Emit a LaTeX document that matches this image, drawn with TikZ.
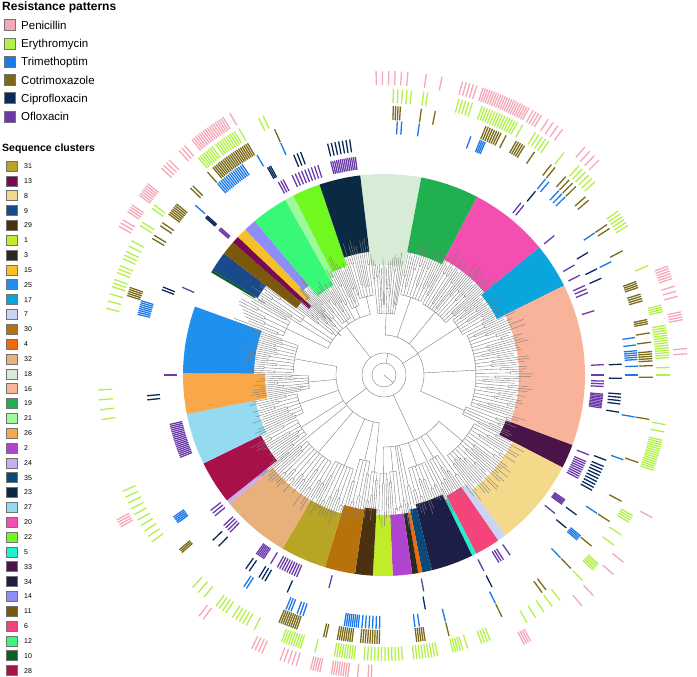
\documentclass[tikz,border=0pt]{standalone}
\usepackage{fontspec}
\setmainfont{Liberation Sans}
\definecolor{k31}{HTML}{B8A526}
\definecolor{k13}{HTML}{7A0A50}
\definecolor{k8}{HTML}{F5D98B}
\definecolor{k9}{HTML}{1A4A8A}
\definecolor{k29}{HTML}{4A3210}
\definecolor{k1}{HTML}{C0EC2A}
\definecolor{k3}{HTML}{2A2A22}
\definecolor{k15}{HTML}{F5C02A}
\definecolor{k25}{HTML}{2090EE}
\definecolor{k17}{HTML}{0AA5DC}
\definecolor{k7}{HTML}{CCD4F5}
\definecolor{k30}{HTML}{B8720A}
\definecolor{k4}{HTML}{F06A0A}
\definecolor{k32}{HTML}{E8B07A}
\definecolor{k18}{HTML}{D6ECD6}
\definecolor{k16}{HTML}{F8B39A}
\definecolor{k19}{HTML}{20B050}
\definecolor{k21}{HTML}{9CFA9C}
\definecolor{k26}{HTML}{F8A848}
\definecolor{k2}{HTML}{B044D0}
\definecolor{k24}{HTML}{C8AEF0}
\definecolor{k35}{HTML}{0A4A78}
\definecolor{k23}{HTML}{0A2A44}
\definecolor{k27}{HTML}{94DAF0}
\definecolor{k20}{HTML}{F44EB0}
\definecolor{k22}{HTML}{70F820}
\definecolor{k5}{HTML}{20F0D0}
\definecolor{k33}{HTML}{4A1448}
\definecolor{k34}{HTML}{1C1E48}
\definecolor{k14}{HTML}{8E8EF8}
\definecolor{k11}{HTML}{7A5A0A}
\definecolor{k6}{HTML}{F4447A}
\definecolor{k12}{HTML}{38F878}
\definecolor{k10}{HTML}{0A6020}
\definecolor{k28}{HTML}{A8104A}
\definecolor{rPen}{HTML}{F4A8B8}
\definecolor{rEry}{HTML}{B2F04A}
\definecolor{rTri}{HTML}{1A78E8}
\definecolor{rCot}{HTML}{7A6A1A}
\definecolor{rCip}{HTML}{0A2A5A}
\definecolor{rOfl}{HTML}{6A3AA8}
\definecolor{treegray}{HTML}{7E7E7E}
\newcommand\ringbars[4]{%
  \foreach \ba/\bb/\bs in {#4} {%
    \pgfmathtruncatemacro\bn{round((\bb-\ba)/\bs)}%
    \foreach \bk in {0,...,\bn} {%
      \pgfmathsetmacro\bt{\ba+\bk*\bs}%
      \draw[#1, line width=1.3pt] (\bt:#2) -- (\bt:#3);
    }%
  }%
}
\def\wedgelist{k18/79.3/96.8/110/40, k19/62.4/79.3/125/40, k20/39.4/62.4/130/40, k17/26.4/39.4/126/40, k16/-20.4/26.4/135/40, k33/-27.4/-20.4/130/40, k8/-52.8/-27.4/145/72, k7/-55.4/-52.8/137/72, k6/-62.7/-55.4/136/72, k5/-64/-62.7/139/72, k34/-76.2/-64/133/72, k35/-79/-76.2/137/72, k4/-80.2/-79/140/72, k3/-81.9/-80.2/140/72, k2/-87.5/-81.9/140/72, k1/-93.2/-87.5/140/72, k29/-98.3/-93.2/134/48, k30/-107.1/-98.3/136/48, k31/-120.3/-107.1/145/48, k32/-140.2/-120.3/145/48, k24/-141.4/-140.2/150/48, k28/-153.9/-141.4/137/48, k27/-168.8/-153.9/131/48, k26/-180.6/-168.8/119/48, k25/-199.9/-180.6/130/48, white/149.3/159.8/150/62, k10/148.6/149.3/150/62, k9/142.8/148.6/148/62, k11/138.7/142.8/110/62, k13/136.6/138.7/100/62, k15/133.6/136.6/107/62, k14/130/133.6/117/62, k12/119.4/130/103/62, k21/116.8/119.4/110/62, k22/108.7/116.8/115/62, k23/96.8/108.7/124/62}
\begin{document}
\begin{tikzpicture}[x=1pt,y=1pt,
  tree/.style={draw=treegray, line width=0.4pt},
  legbox/.style={draw=black!55, line width=0.5pt}]
\path[use as bounding box] (0,0) rectangle (697,677);
\pgfmathsetseed{7}
% ---------- legend: resistance patterns
\node[anchor=base west, inner sep=0, font=\bfseries\fontsize{12}{14}\selectfont] (rtitle) at (2,666) {Resistance patterns};
\foreach \lc/\lt [count=\li from 0] in {rPen/Penicillin, rEry/Erythromycin, rTri/Trimethoptim, rCot/Cotrimoxazole, rCip/Ciprofloxacin, rOfl/Ofloxacin} {
  \pgfmathsetmacro\yy{677-(25+18.3*\li)}
  \draw[legbox, fill=\lc] (4,\yy-5.5) rectangle (15,\yy+5.5);
  \node[anchor=base west, inner sep=0, font=\fontsize{11.5}{13}\selectfont] (rl\li) at (21,\yy-4.2) {\lt};
}
% ---------- legend: sequence clusters
\node[anchor=base west, inner sep=0, font=\bfseries\fontsize{10.5}{12}\selectfont] (stitle) at (2,525) {Sequence clusters};
\foreach \ln [count=\li from 0] in {31,13,8,9,29,1,3,15,25,17,7,30,4,32,18,16,19,21,26,2,24,35,23,27,20,22,5,33,34,14,11,6,12,10,28} {
  \pgfmathsetmacro\yy{677-(166+14.84*\li)}
  \draw[legbox, fill=k\ln] (6,\yy-5) rectangle (17,\yy+5);
  \node[anchor=base west, inner sep=0, font=\fontsize{7}{8}\selectfont] (sl\li) at (24,\yy-2.5) {\ln};
}
% ---------- tree
\begin{scope}[shift={(384,302)}]
  % cluster wedges
  \foreach \wc/\wa/\wb/\wr/\wg in \wedgelist {
    \fill[\wc] (\wa:\wr) arc[start angle=\wa, end angle=\wb, radius=\wr] -- (\wb:201) arc[start angle=\wb, end angle=\wa, radius=201] -- cycle;
  }
  % backbone
  \draw[tree] (0,0) circle (12);
  \draw[tree] (0,0) circle (22);
  \draw[tree] (-23.9:40) arc[start angle=-23.9, end angle=88, radius=40];
  \draw[tree] (102.75:62) arc[start angle=102.75, end angle=154.5, radius=62];
  \draw[tree] (-90.35:72) arc[start angle=-90.35, end angle=-40.1, radius=72];
  \draw[tree] (-190.25:48) arc[start angle=-190.25, end angle=-95.75, radius=48];
  \draw[tree] (32:22) -- (32:40);
  \draw[tree] (128:22) -- (128:62);
  \draw[tree] (-65:22) -- (-65:72);
  \draw[tree] (-143:22) -- (-143:48);
  \draw[tree] (-40:0) -- (-40:12);
  \draw[tree] (80:12) -- (80:22);
  % clades and tips
  \foreach \wc/\wa/\wb/\wr/\wg in \wedgelist {
    \pgfmathtruncatemacro\m{max(1,round((\wb-\wa)/2.0))}
    \pgfmathsetmacro\st{(\wb-\wa)/(2*\m)}
    \pgfmathsetmacro\rc{\wr-36-14*rnd}
    \pgfmathsetmacro\md{(\wa+\wb)/2}
    \pgfmathsetmacro\ca{\wa+\st}
    \pgfmathsetmacro\cb{\wb-\st}
    \draw[tree] (\md:\wg) -- (\md:\rc);
    \ifnum\m>1 \draw[tree] (\ca:\rc) arc[start angle=\ca, end angle=\cb, radius=\rc]; \fi
    \foreach \j in {1,...,\m} {
      \pgfmathsetmacro\ta{\wa+(2*\j-1.5)*\st}
      \pgfmathsetmacro\tb{\wa+(2*\j-0.5)*\st}
      \pgfmathsetmacro\tm{\wa+(2*\j-1)*\st}
      \pgfmathsetmacro\rp{\rc+4+rnd*(\wr-\rc-8)}
      \pgfmathsetmacro\ea{\wr-4+rnd*20}
      \pgfmathsetmacro\eb{\wr-4+rnd*20}
      \draw[tree] (\tm:\rc) -- (\tm:\rp);
      \draw[tree] (\ta:\ea) -- (\ta:\rp) arc[start angle=\ta, end angle=\tb, radius=\rp] -- (\tb:\eb);
    }
  }
  % ---------- resistance rings
  \ringbars{rOfl}{207}{220}{30/30/1, 27/27/1, 22/24/1, 17/17/1, 39.3/39.3/1, 50.5/51.5/1, 97.5/104/0.5, 107.5/114.5/0.9, 117.3/118.7/0.7, 138/138.7/0.35, 156.5/156.5/1, 180/180/1, 193/202/0.5, 218/219.8/0.9, 223.2/225.8/0.8, 234.5/236.8/0.45, 239/239/1, 241/246.7/0.7, 255.5/255.5/1, 280.4/280.4/1, 297/297/1, 301.5/302.9/0.7, 305/305/1, 321/321/1, 324/325.4/0.35, 332/337/0.6, 338.7/338.7/1, 351.4/355/0.4, 357/358.4/0.7, 0/0/1, 2.7/2.7/1}
  \ringbars{rCip}{225}{238}{50.5/50.5/1, 98.3/103.3/0.9, 110.5/112.5/0.9, 118.5/119.3/0.4, 138/138.6/0.3, 158.3/159/0.7, 185/186/1, 224/224/1, 226/226/1, 234.5/235.5/1, 238.3/240/0.85, 246/246/1, 280/280/1, 297/297/1, 320/320/1, 324/324/1, 331/337/0.8, 339/339/1, 351/351/1, 353/355.5/0.8, 359.2/359.2/1, 2.6/2.6/1, 24/24/1, 26.5/26.5/1, 31/31/1}
  \ringbars{rTri}{241}{254}{44.5/46.5/1, 49.5/50.5/1, 66.5/67.5/0.4, 70/70/1, 82/82/1, 86/87/1, 114/114/1, 120/120/1, 124/131/0.5, 138/138/1, 163/166/0.45, 214/215.5/0.4, 236.5/237.2/0.7, 247.3/248.5/0.6, 250/251.4/0.7, 261/264/0.45, 265/269/0.8, 277/278/1, 284/284/1, 296/296/1, 314/314/1, 319.5/320.5/0.4, 327/327/1, 340.5/340.5/1, 350.5/350.5/1, 0/0/1, 2/2/1, 3.5/5.5/0.5, 6.8/6.8/1, 8.5/8.5/1, 26.5/26.5/1, 34/34/1}
  \ringbars{rCot}{255}{269}{40.5/41.5/1, 44.5/47.5/1, 50.5/51.5/1, 56/56/1, 58.5/60.5/0.5, 63/63/1, 64.2/67.8/0.5, 79/79/1, 82/82/1, 86.5/87.9/0.5, 114/114/1, 120.5/129.6/0.45, 131/131/1, 135.3/136/0.7, 140.5/143/0.45, 145.5/146.3/0.8, 148.7/149.5/0.8, 161/163/0.45, 220.5/221.3/0.4, 247/251/0.45, 257/257.5/0.5, 260/263/0.45, 265/269/0.5, 277/279/0.45, 284/284/1, 296/296/1, 306/307/1, 314/314/1, 320.5/320.5/1, 327/327/1, 332/332/1, 341/341/1, 350.5/350.5/1, 359.5/359.5/1, 2/2/1, 3/5/0.5, 7/7/1, 9/9/1, 11/12/0.45, 16/17.5/0.5, 19/20.5/0.45, 27.5/27.5/1, 33/34/1}
  \ringbars{rEry}{272}{286}{42.5/47.2/0.9, 51/51/1, 54.8/58/0.8, 61/61/1, 62.2/70/0.55, 72/75/0.7, 81.2/82/0.8, 84.5/88/0.9, 115/116/1, 120.5/120.5/1, 121.6/126/0.5, 127/130.5/0.5, 143.5/144.3/0.8, 147.7/148.5/0.8, 152/154.5/1.2, 155.2/156/0.8, 157.5/159/0.75, 160.5/162/0.75, 163.5/166.5/1.5, 183/189/2, 204/216/1.3, 228/231/1.5, 234/236.4/0.8, 238/240.8/0.8, 243/243/1, 249/253/0.5, 256/256/1, 260/264/0.5, 266/274/0.7, 276/281/0.6, 284/286/0.5, 287/287/1, 290/291.8/0.6, 300/308/2, 314/314/1, 317/318.5/0.4, 323.5/323.5/1, 326/326/1, 329/330.5/0.5, 340.5/346.6/0.45, 348.5/350/1.5, 0/1.5/1.5, 3.5/10/0.5, 12.8/14.2/0.45, 22.5/22.5/1, 31.5/35/0.7}
  \ringbars{rPen}{290}{304}{45/48.6/1.2, 54/57.3/1.1, 58.8/60.6/0.6, 61.5/71/0.45, 72.2/75/0.7, 79/79/1, 82/82/1, 85.5/91.5/1.2, 120.5/120.5/1, 122/129/0.45, 131/132.4/0.7, 135/137.2/0.7, 141/143.5/0.45, 146/147.5/0.5, 149.3/150.7/0.7, 208.5/210/0.5, 232.5/233.5/1, 244.2/246.4/0.7, 250/253.5/0.8, 256/258/0.45, 260/263/0.45, 265/265/1, 267/267.6/0.6, 297.5/299/0.45, 310.6/310.6/1, 313.5/313.5/1, 319/319/1, 322/322/1, 332/332/1, 4/5/1, 10.5/12/0.5, 15/17/1, 18.5/21/0.5}
\end{scope}
\end{tikzpicture}
\end{document}
